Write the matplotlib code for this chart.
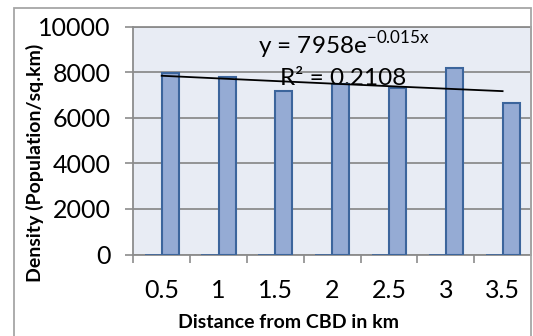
import numpy as np
import matplotlib
matplotlib.use("Agg")
import matplotlib.pyplot as plt
from matplotlib.patches import Rectangle

# Data
distance_labels = ["0.5", "1", "1.5", "2", "2.5", "3", "3.5"]
density = [7950, 7780, 7190, 7470, 7320, 8180, 6660]
empty_series = [0, 0, 0, 0, 0, 0, 0]
trend_a = 7958
trend_b = -0.015
r_squared = "0.2108"
y_ticks = [0, 2000, 4000, 6000, 8000, 10000]

plt.rcParams["font.family"] = ["Lato", "DejaVu Sans"]
plt.rcParams["mathtext.fontset"] = "custom"
plt.rcParams["mathtext.rm"] = "Lato"

W, H = 533, 336
fig = plt.figure(figsize=(W / 100, H / 100), dpi=100)

left_px, right_px, top_px, bottom_px = 133.3, 531, 26.5, 254.5
ax = fig.add_axes([left_px / W, 1 - bottom_px / H,
                   (right_px - left_px) / W, (bottom_px - top_px) / H])

grid_c = "#8c8c8c"
fill_c = "#95abd4"
edge_c = "#3c659c"
ax.set_facecolor("#e8ecf4")

x = np.arange(len(distance_labels))
ax.bar(x - 0.15, empty_series, width=0.3, color=fill_c, edgecolor=edge_c,
       linewidth=1.2, zorder=3)
ax.bar(x + 0.15, density, width=0.3, color=fill_c, edgecolor=edge_c,
       linewidth=1.5, zorder=3)

# Exponential trendline evaluated at category positions 1..n
pos = x + 1
trend = trend_a * np.exp(trend_b * pos)
ax.plot(x, trend, color="black", linewidth=1.3, zorder=4)

ax.set_xlim(-0.5, len(distance_labels) - 0.5)
ax.set_ylim(0, 10000)
ax.set_yticks(y_ticks)
ax.set_yticklabels([str(v) for v in y_ticks])
ax.yaxis.grid(True, color=grid_c, linewidth=1.3, zorder=0)
ax.set_axisbelow(True)

ax.set_xticks(x)
ax.set_xticklabels(distance_labels)
ax.set_xticks(np.arange(-0.5, len(distance_labels) - 0.5, 1.0), minor=True)
ax.tick_params(axis="x", which="major", length=0, pad=17.5, labelsize=18)
ax.tick_params(axis="x", which="minor", length=6, width=1.2, color=grid_c,
               direction="out")
ax.tick_params(axis="y", length=5.5, width=1.2, color=grid_c, pad=11,
               labelsize=18)

for side in ["left", "right", "top", "bottom"]:
    ax.spines[side].set_color(grid_c)
    ax.spines[side].set_linewidth(1.3)

# Trendline equation and fit statistic
cx = (343.5 - left_px) / (right_px - left_px)
ax.text(cx, (bottom_px - 53.5) / (bottom_px - top_px),
        r"y = 7958e$^{\mathregular{-0.015x}}$",
        transform=ax.transAxes, ha="center", va="baseline", fontsize=17.5,
        zorder=5)
ax.text(cx, (bottom_px - 85) / (bottom_px - top_px),
        "R² = " + r_squared,
        transform=ax.transAxes, ha="center", va="baseline", fontsize=17.5,
        zorder=2)

fig.text(288 / W, 1 - 323 / H, "Distance from CBD in km",
         ha="center", va="center", fontsize=14, fontweight="bold")
fig.text(35 / W, 1 - 162.5 / H, "Density (Population/sq.km)",
         ha="center", va="center", rotation=90, fontsize=14,
         fontweight="bold")

# Chart frame
fig.add_artist(Rectangle((14 / W, -0.1), (531 - 14) / W, (H - 8) / H + 0.1,
                         transform=fig.transFigure, fill=False,
                         edgecolor="#a6a6a6", linewidth=1.3))

fig.savefig("out.png", dpi=100)
